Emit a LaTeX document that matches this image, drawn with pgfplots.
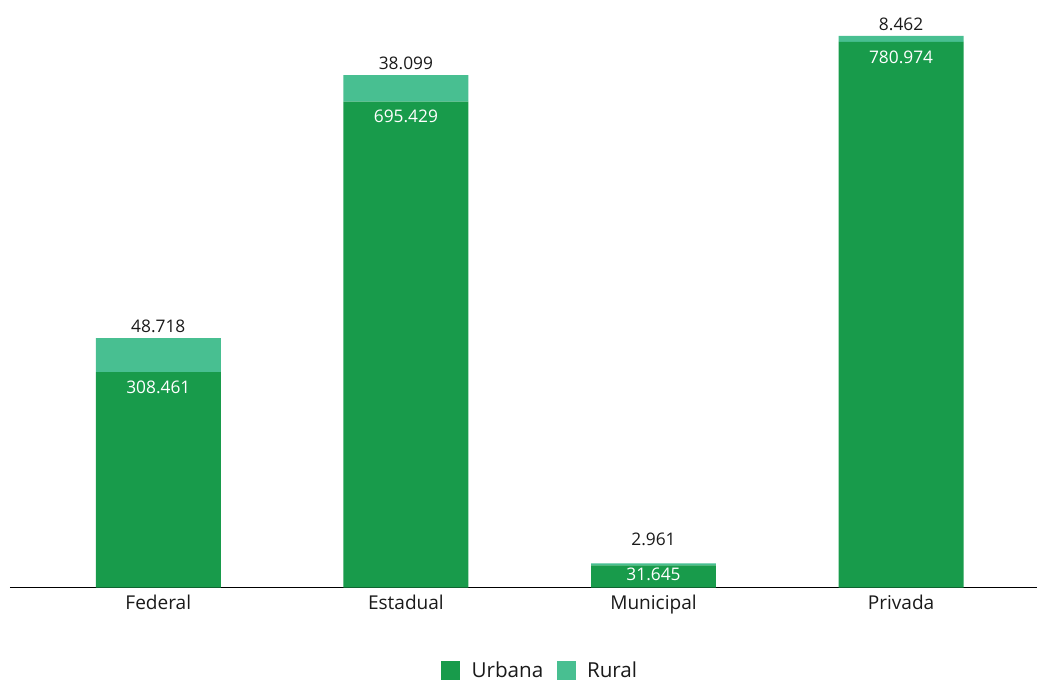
\documentclass[border=0pt]{standalone}
\usepackage{pgfplots}
\pgfplotsset{compat=1.18}
\usepackage{pgfplotstable}
\usepackage{fontspec}
\setmainfont{Open Sans}
\definecolor{urb}{HTML}{189B4B}
\definecolor{rur}{HTML}{48BF91}
\definecolor{txt}{HTML}{1A1A1A}
\pgfplotstableread{
x urb urblab rur rurlab
0 308461 308.461 48718 48.718
1 695429 695.429 38099 38.099
2 31645 31.645 2961 2.961
3 780974 780.974 8462 8.462
}\data
\pgfplotsset{common/.style={
  scale only axis, width=771pt, height=441pt,
  xmin=-0.599, xmax=3.55, ymin=0, ymax=840900, clip=false}}
\begin{document}
\begin{tikzpicture}[font=\fontsize{13}{15}\selectfont]
\begin{axis}[common,
  ybar stacked, bar width=93.75pt,
  axis x line=bottom, axis y line=none,
  axis line style={black, line width=1.1pt, -},
  xtick={0,1,2,3}, xticklabels={Federal,Estadual,Municipal,Privada},
  major tick length=0pt,
  x tick label style={font=\fontsize{14.3}{16}\selectfont, text=txt, yshift=-2pt},
  legend style={draw=none, at={(0.5165,-0.141)}, anchor=center, font=\fontsize{15.5}{17}\selectfont, text=txt,
    legend columns=2, /tikz/every even column/.append style={column sep=8pt},
    /tikz/every odd column/.append style={column sep=6.5pt}},
  legend image code/.code={\fill[#1] (0pt,-7.1pt) rectangle (14.25pt,7.15pt);},
]
\addplot[fill=urb, draw=none] table[x=x, y=urb]{\data};
\addlegendentry{Urbana}
\addplot[fill=rur, draw=none] table[x=x, y=rur]{\data};
\addlegendentry{Rural}
\end{axis}
\begin{axis}[common, hide axis]
\addplot[draw=none, nodes near coords, point meta=explicit symbolic,
  every node near coord/.append style={anchor=north, text=white, yshift=-3pt},
  coordinate style/.condition={\coordindex==2}{yshift=4.5pt}]
  table[x=x, y=urb, meta=urblab]{\data};
\addplot[draw=none, nodes near coords, point meta=explicit symbolic,
  every node near coord/.append style={anchor=south, text=txt, yshift=0.5pt},
  coordinate style/.condition={\coordindex==2}{yshift=9pt}]
  table[x=x, y expr=\thisrow{urb}+\thisrow{rur}, meta=rurlab]{\data};
\end{axis}
\path (current axis.south west) ++(-7.5pt,-69.75pt);
\path (current axis.north east);
\end{tikzpicture}
\end{document}
